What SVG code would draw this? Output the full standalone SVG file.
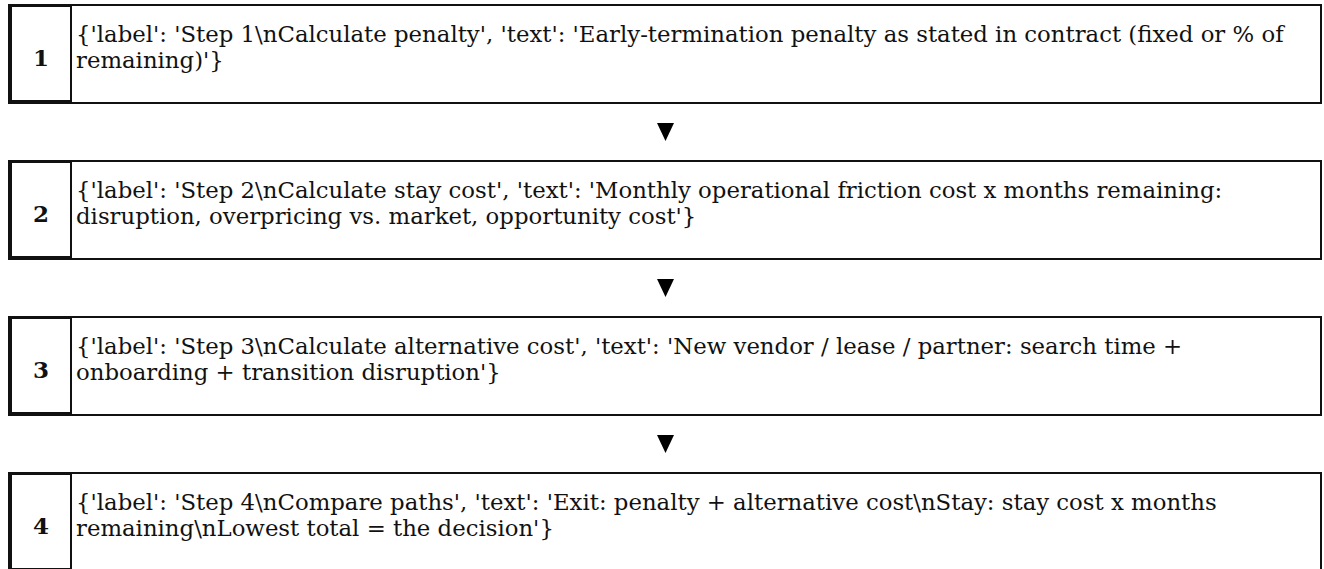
<svg xmlns="http://www.w3.org/2000/svg" width="1324" height="569" viewBox="0 0 1324 569">
<style>
.outer{fill:#fff;stroke:#111;stroke-width:2}
.cell{fill:#fff;stroke:#111;stroke-width:2}
.bar{fill:#111}
.num{font-family:"Palatino Linotype","Book Antiqua",Palatino,"DejaVu Serif",serif;font-weight:bold;font-size:23px;fill:#111;text-anchor:middle}
.txt{font-family:"Palatino Linotype","Book Antiqua",Palatino,"DejaVu Serif",serif;font-size:22.8px;fill:#111}
.arrow{fill:#000}
</style>
<rect width="1324" height="569" fill="#fff"/>
<g id="connectors">
<polygon class="arrow" points="657,123 674,123 665.5,141"/>
<polygon class="arrow" points="657,279 674,279 665.5,297"/>
<polygon class="arrow" points="657,435 674,435 665.5,453"/>
</g>
<g id="step1">
<rect class="outer" x="9" y="5" width="1312" height="98"/>
<rect class="cell" x="11" y="6" width="60" height="95"/>
<rect class="bar" x="8" y="4" width="4" height="100"/>
<text class="num" x="41" y="66">1</text>
<text class="txt" x="76" y="42">{'label': 'Step 1\nCalculate penalty', 'text': 'Early-termination penalty as stated in contract (fixed or % of</text>
<text class="txt" x="76" y="68">remaining)'}</text>
</g>
<g id="step2">
<rect class="outer" x="9" y="161" width="1312" height="98"/>
<rect class="cell" x="11" y="162" width="60" height="95"/>
<rect class="bar" x="8" y="160" width="4" height="100"/>
<text class="num" x="41" y="222">2</text>
<text class="txt" x="76" y="198">{'label': 'Step 2\nCalculate stay cost', 'text': 'Monthly operational friction cost x months remaining:</text>
<text class="txt" x="76" y="224">disruption, overpricing vs. market, opportunity cost'}</text>
</g>
<g id="step3">
<rect class="outer" x="9" y="317" width="1312" height="98"/>
<rect class="cell" x="11" y="318" width="60" height="95"/>
<rect class="bar" x="8" y="316" width="4" height="100"/>
<text class="num" x="41" y="378">3</text>
<text class="txt" x="76" y="354">{'label': 'Step 3\nCalculate alternative cost', 'text': 'New vendor / lease / partner: search time +</text>
<text class="txt" x="76" y="380">onboarding + transition disruption'}</text>
</g>
<g id="step4">
<rect class="outer" x="9" y="473" width="1312" height="98"/>
<rect class="cell" x="11" y="474" width="60" height="95"/>
<rect class="bar" x="8" y="472" width="4" height="100"/>
<text class="num" x="41" y="534">4</text>
<text class="txt" x="76" y="510">{'label': 'Step 4\nCompare paths', 'text': 'Exit: penalty + alternative cost\nStay: stay cost x months</text>
<text class="txt" x="76" y="536">remaining\nLowest total = the decision'}</text>
</g>
</svg>
